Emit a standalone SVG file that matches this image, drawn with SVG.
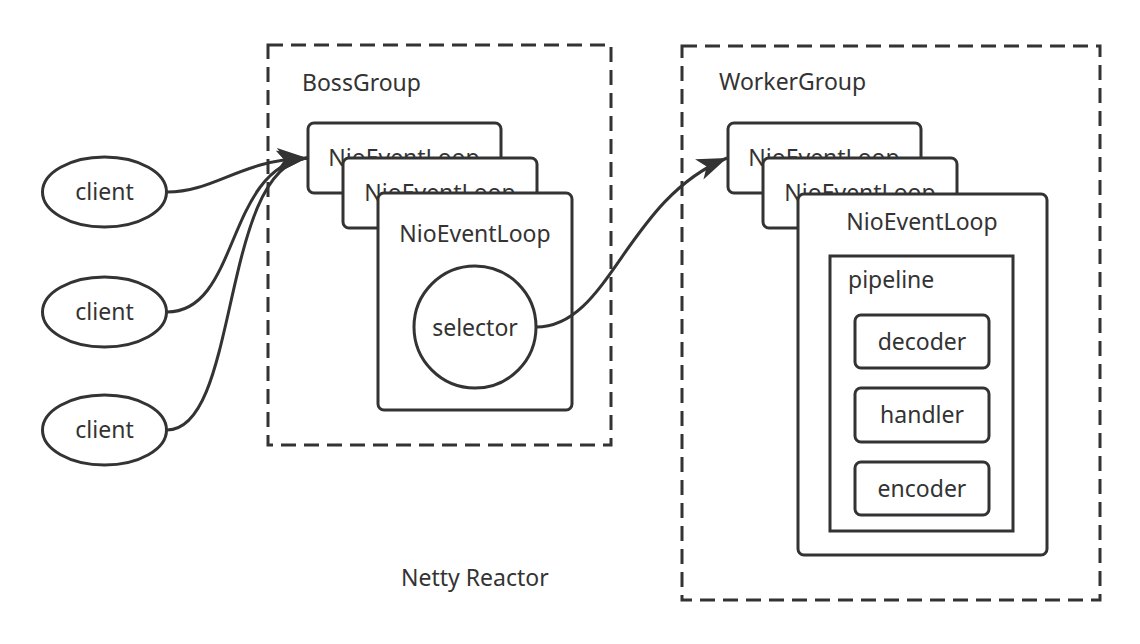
<svg xmlns="http://www.w3.org/2000/svg" width="1140" height="644" viewBox="0 0 1140 644">
<defs>
<style>
text{font-family:"Noto Sans","Open Sans","Liberation Sans",sans-serif;font-size:23px;fill:#333}
.grp{fill:none;stroke:#333;stroke-width:3;stroke-dasharray:15 8}
.box{fill:#fff;stroke:#333;stroke-width:3}
.edge{fill:none;stroke:#333;stroke-width:3}
.mid{text-anchor:middle}
</style>
<marker id="arr" markerUnits="userSpaceOnUse" markerWidth="32" markerHeight="24" refX="30" refY="11" orient="auto">
<path d="M0,0 L30,11 L0,22 L8,11 Z" fill="#333"/>
</marker>
</defs>
<rect width="1140" height="644" fill="#fff"/>

<g id="bossGroup">
<rect class="grp" x="268" y="45" width="343" height="400"/>
<text x="302" y="91">BossGroup</text>
</g>
<g id="workerGroup">
<rect class="grp" x="682" y="46" width="418" height="554"/>
<text x="719" y="90">WorkerGroup</text>
</g>

<g id="boss-loop1">
<rect class="box" x="308" y="123" width="193" height="70" rx="6"/>
<text class="mid" x="404" y="166">NioEventLoop</text>
</g>
<g id="boss-loop2">
<rect class="box" x="343" y="158" width="194" height="70" rx="6"/>
<text class="mid" x="440" y="201">NioEventLoop</text>
</g>
<g id="boss-loop3">
<rect class="box" x="378" y="193" width="194" height="217" rx="6"/>
<text class="mid" x="475" y="242">NioEventLoop</text>
</g>
<g id="selector">
<circle class="box" cx="475" cy="327" r="61"/>
<text class="mid" x="475" y="336">selector</text>
</g>

<g id="worker-loop1">
<rect class="box" x="728" y="123" width="193" height="70" rx="6"/>
<text class="mid" x="824" y="166">NioEventLoop</text>
</g>
<g id="worker-loop2">
<rect class="box" x="763" y="158" width="194" height="70" rx="6"/>
<text class="mid" x="860" y="201">NioEventLoop</text>
</g>
<g id="worker-loop3">
<rect class="box" x="798" y="194" width="249" height="361" rx="6"/>
<text class="mid" x="922" y="230">NioEventLoop</text>
</g>
<g id="pipeline">
<rect class="box" x="830" y="256" width="183" height="275"/>
<text x="848" y="288">pipeline</text>
</g>
<g id="decoder">
<rect class="box" x="855" y="315" width="134" height="53" rx="6"/>
<text class="mid" x="922" y="350">decoder</text>
</g>
<g id="handler">
<rect class="box" x="855" y="388" width="134" height="54" rx="6"/>
<text class="mid" x="922" y="423">handler</text>
</g>
<g id="encoder">
<rect class="box" x="855" y="462" width="134" height="53" rx="6"/>
<text class="mid" x="922" y="497">encoder</text>
</g>

<g id="client1">
<ellipse class="box" cx="104.5" cy="192" rx="62" ry="35"/>
<text class="mid" x="104.5" y="200">client</text>
</g>
<g id="client2">
<ellipse class="box" cx="104.5" cy="312" rx="62" ry="35"/>
<text class="mid" x="104.5" y="320">client</text>
</g>
<g id="client3">
<ellipse class="box" cx="104.5" cy="430" rx="62" ry="35"/>
<text class="mid" x="104.5" y="438">client</text>
</g>

<g id="connectors">
<path class="edge" d="M167,192 C215,192 240,160 307,158" marker-end="url(#arr)"/>
<path class="edge" d="M167,312 C240,312 225,168 307,158" marker-end="url(#arr)"/>
<path class="edge" d="M167,430 C240,430 220,168 307,158" marker-end="url(#arr)"/>
<path class="edge" d="M536,327 C610,327 625,200 727,158" marker-end="url(#arr)"/>
</g>

<text id="title" x="401" y="586">Netty Reactor</text>
</svg>
